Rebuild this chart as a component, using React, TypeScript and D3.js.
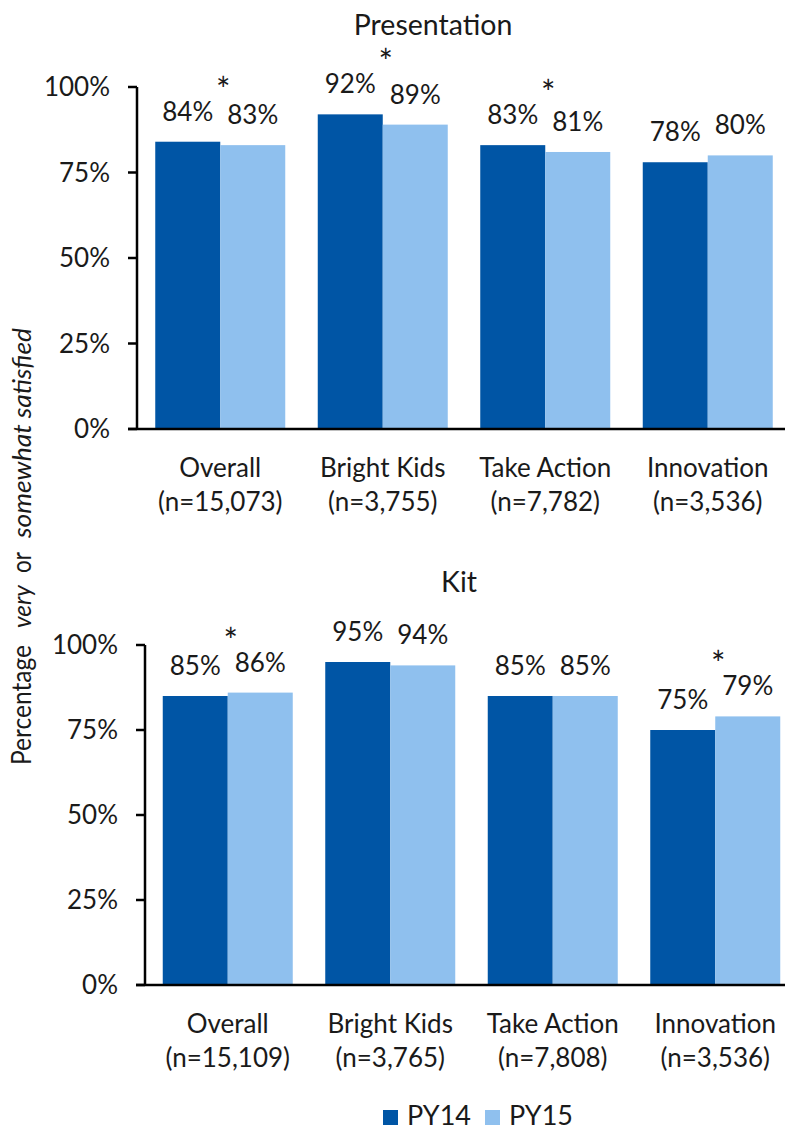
import React from "react";
import * as d3 from "d3";

const categoriesTop = ["Overall", "Bright Kids", "Take Action", "Innovation"];
const nTop = ["(n=15,073)", "(n=3,755)", "(n=7,782)", "(n=3,536)"];
const py14Top = [84, 92, 83, 78];
const py15Top = [83, 89, 81, 80];
const sigTop = [true, true, true, false];

const categoriesBottom = ["Overall", "Bright Kids", "Take Action", "Innovation"];
const nBottom = ["(n=15,109)", "(n=3,765)", "(n=7,808)", "(n=3,536)"];
const py14Bottom = [85, 95, 85, 75];
const py15Bottom = [86, 94, 85, 79];
const sigBottom = [true, false, false, true];

const seriesNames = ["PY14", "PY15"];
const colors = ["#0055A5", "#8FC0EE"];
const yTicks = [0, 25, 50, 75, 100];

const FONT = "Lato, 'Open Sans', sans-serif";
const TEXT = "#1a1a1a";

type PanelProps = {
  title: string;
  titleX: number;
  titleY: number;
  axisX: number;
  rangeStart: number;
  yTop: number;
  yBottom: number;
  cats: string[];
  ns: string[];
  a: number[];
  b: number[];
  sig: boolean[];
};

function Panel(p: PanelProps) {
  const x = d3
    .scaleBand<string>()
    .domain(p.cats)
    .range([p.rangeStart, p.rangeStart + 650])
    .paddingInner(0.2)
    .paddingOuter(0.1);
  const xs = d3.scaleBand<string>().domain(seriesNames).range([0, x.bandwidth()]);
  const y = d3.scaleLinear().domain([0, 100]).range([p.yBottom, p.yTop]);
  const vals = [p.a, p.b];
  return (
    <g>
      <text x={p.titleX} y={p.titleY} textAnchor="middle" fontSize={28.5} fill={TEXT} fontFamily={FONT}>
        {p.title}
      </text>
      {p.cats.map((c, i) => (
        <g key={c}>
          {seriesNames.map((s, si) => {
            const v = vals[si][i];
            const bx = (x(c) as number) + (xs(s) as number);
            return (
              <g key={s}>
                <rect x={bx} y={y(v)} width={xs.bandwidth()} height={y(0) - y(v)} fill={colors[si]} />
                <text
                  x={bx + xs.bandwidth() / 2}
                  y={y(v) - 21}
                  textAnchor="middle"
                  fontSize={26}
                  fill={TEXT}
                  fontFamily={FONT}
                >
                  {v}%
                </text>
              </g>
            );
          })}
          {p.sig[i] && (
            <text
              x={(x(c) as number) + x.bandwidth() / 2 + 3}
              y={y(Math.max(p.a[i], p.b[i])) - 60 + 20}
              textAnchor="middle"
              fontSize={34}
              fill={TEXT}
              fontFamily={FONT}
            >
              *
            </text>
          )}
          <text
            x={(x(c) as number) + x.bandwidth() / 2}
            y={p.yBottom + 48}
            textAnchor="middle"
            fontSize={26}
            fill={TEXT}
            fontFamily={FONT}
          >
            {c}
          </text>
          <text
            x={(x(c) as number) + x.bandwidth() / 2}
            y={p.yBottom + 82}
            textAnchor="middle"
            fontSize={26}
            fill={TEXT}
            fontFamily={FONT}
          >
            {p.ns[i]}
          </text>
        </g>
      ))}
      <line x1={p.axisX} x2={p.axisX} y1={y(100)} y2={y(0)} stroke="#000" strokeWidth={2.5} />
      <line x1={p.axisX - 9} x2={785} y1={y(0)} y2={y(0)} stroke="#000" strokeWidth={2.5} />
      {yTicks.map((t) => (
        <g key={t}>
          <line x1={p.axisX - 9} x2={p.axisX} y1={y(t)} y2={y(t)} stroke="#000" strokeWidth={2.5} />
          <text
            x={p.axisX - 27}
            y={y(t) + 9}
            textAnchor="end"
            fontSize={26}
            fill={TEXT}
            fontFamily={FONT}
          >
            {t}%
          </text>
        </g>
      ))}
    </g>
  );
}

const yTitleParts = [
  { text: "Percentage", italic: false, start: 765, end: 645 },
  { text: "very", italic: true, start: 628, end: 585 },
  { text: "or", italic: false, start: 573, end: 552 },
  { text: "somewhat satisfied", italic: true, start: 538, end: 328 },
];

export default function App() {
  return (
    <svg
      width={785}
      height={1130}
      style={{ position: "absolute", left: 0, top: 0, background: "#fff", overflow: "hidden" }}
    >
      <rect width={785} height={1130} fill="#fff" />
      <Panel
        title="Presentation"
        titleX={433}
        titleY={35}
        axisX={137}
        rangeStart={139}
        yTop={87}
        yBottom={429}
        cats={categoriesTop}
        ns={nTop}
        a={py14Top}
        b={py15Top}
        sig={sigTop}
      />
      <Panel
        title="Kit"
        titleX={459}
        titleY={592}
        axisX={145}
        rangeStart={146.5}
        yTop={645}
        yBottom={985}
        cats={categoriesBottom}
        ns={nBottom}
        a={py14Bottom}
        b={py15Bottom}
        sig={sigBottom}
      />
      <g transform="translate(31,0) rotate(-90)">
        {yTitleParts.map((part) => (
          <text
            key={part.text}
            x={-part.start}
            y={0}
            fontSize={26}
            fill={TEXT}
            fontFamily={FONT}
            fontStyle={part.italic ? "italic" : "normal"}
            textLength={part.start - part.end}
            lengthAdjust="spacingAndGlyphs"
          >
            {part.text}
          </text>
        ))}
      </g>
      {seriesNames.map((s, i) => {
        const lx = [383, 485][i];
        return (
          <g key={s}>
            <rect x={lx} y={1110} width={15} height={15} fill={colors[i]} />
            <text x={lx + 24} y={1125} fontSize={27} fill={TEXT} fontFamily={FONT}>
              {s}
            </text>
          </g>
        );
      })}
    </svg>
  );
}
